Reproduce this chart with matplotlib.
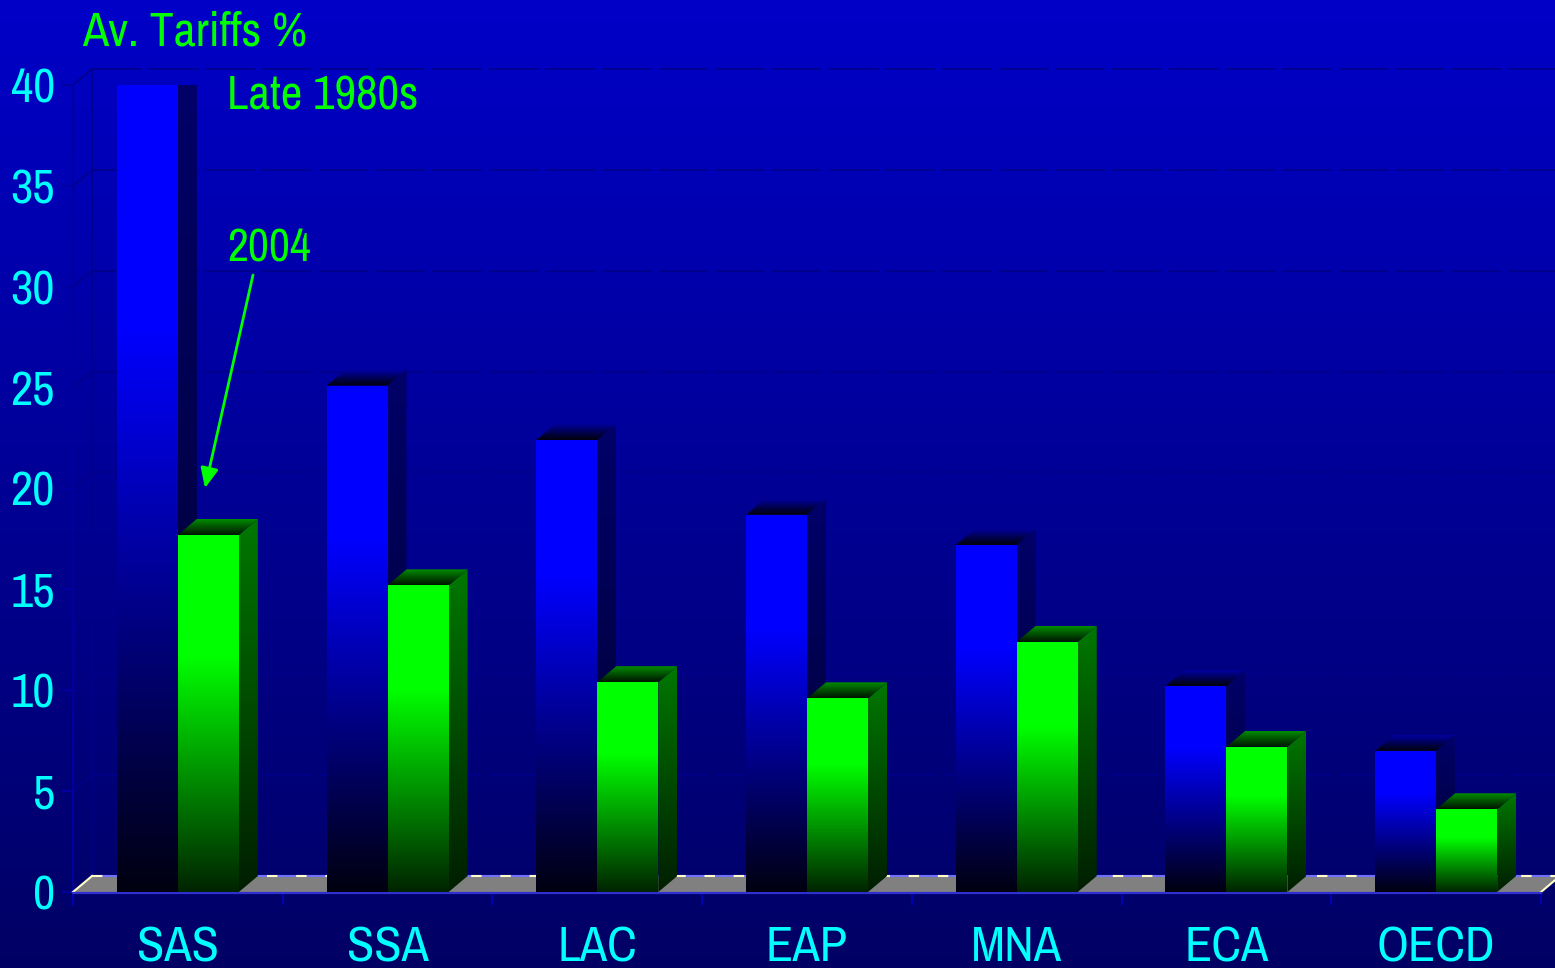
import numpy as np
import matplotlib
matplotlib.use("Agg")
import matplotlib.pyplot as plt
from matplotlib.patches import Polygon
from matplotlib import font_manager as fm

# ---------------- data ----------------
categories = ["SAS", "SSA", "LAC", "EAP", "MNA", "ECA", "OECD"]
late_1980s = [40.0, 25.1, 22.4, 18.7, 17.2, 10.2, 7.0]
y2004 = [17.7, 15.2, 10.4, 9.6, 12.4, 7.2, 4.1]
yticks = [0, 5, 10, 15, 20, 25, 30, 35, 40]

# ---------------- font choice ----------------
_names = {f.name for f in fm.fontManager.ttflist}
FONT_NAME = None
for nm in ["Liberation Sans Narrow", "Arial Narrow", "Nimbus Sans Narrow",
           "Archivo Narrow", "Roboto Condensed", "PT Sans Narrow"]:
    if nm in _names:
        FONT_NAME = nm
        break
if FONT_NAME is None:
    FONT = dict(family=["DejaVu Sans"], stretch="condensed")
else:
    FONT = dict(family=[FONT_NAME, "DejaVu Sans"])

W, H = 1555, 968
fig = plt.figure(figsize=(W / 100, H / 100), dpi=100)

# ---------- background gradient ----------
bg = fig.add_axes([0, 0, 1, 1], zorder=-5)
g = np.linspace(0, 1, 256)[:, None]
top = np.array([0, 0, 200]) / 255
bot = np.array([0, 0, 100]) / 255
img = (bot[None, None, :] * (1 - g[..., None]) + top[None, None, :] * g[..., None])
img = np.repeat(img, 2, axis=1)
bg.imshow(img, origin="lower", extent=[0, 1, 0, 1], aspect="auto", interpolation="bilinear")
bg.set_axis_off()

# ---------- main axes ----------
x_left, x_right = 73, 1541
y0_pix, y40_pix = 892, 85
ax = fig.add_axes([x_left / W, (H - y0_pix) / H, (x_right - x_left) / W, (y0_pix - y40_pix) / H])
ax.set_facecolor("none")
for s in ax.spines.values():
    s.set_visible(False)

n = len(categories)
xs = np.arange(n)
DX = 19 / ((x_right - x_left) / n)    # depth offset in x data units
DY = 16 / ((y0_pix - y40_pix) / 40)   # depth offset in y data units
BW = 0.291

ax.set_xlim(-0.5, n - 0.5)
ax.set_ylim(0, 40)

wall_col = "#00008a"
for t in yticks:
    if t > 0:
        ax.plot([-0.5 + DX, n + 1], [t + DY, t + DY], color=wall_col, lw=1.2,
                dashes=(30, 4), clip_on=False, zorder=1)
    ax.plot([-0.5, -0.5 + DX], [t, t + DY], color=wall_col, lw=1.2, clip_on=False, zorder=1)
ax.plot([-0.5 + DX, -0.5 + DX], [DY, 40 + DY], color=wall_col, lw=1.2, clip_on=False, zorder=1)
ax.plot([-0.5, -0.5], [-0.65, 40], color="#0000a0", lw=1.5, clip_on=False, zorder=1)

# floor
floor = Polygon([(-0.5, 0), (n - 0.5, 0), (n - 0.5 + DX, DY), (-0.5 + DX, DY)],
                closed=True, facecolor="#808080", edgecolor="none", clip_on=False, zorder=2)
ax.add_patch(floor)
ax.plot([-0.5 + DX, n + 1], [DY, DY], color="#7070ff", lw=1.5, clip_on=False, zorder=2.1)
ax.plot([-0.5 + DX, n + 1], [DY, DY], color="#ffffc8", lw=1.5, dashes=(5, 9),
        clip_on=False, zorder=2.2)
ax.plot([-0.5, -0.5 + DX], [0, DY], color="#ffffc8", lw=1.5, clip_on=False, zorder=2.2)
ax.plot([n - 0.5, n - 0.5 + DX], [0, DY], color="#ffffc8", lw=1.5, clip_on=False, zorder=2.2)
ax.plot([-0.5, n - 0.5], [-0.05, -0.05], color="#3030d0", lw=1.6, clip_on=False, zorder=2.3)


def grad_img(fn, npts=200):
    f = np.linspace(0, 1, npts)
    cols = np.array([fn(v) for v in f]) / 255.0
    return np.repeat(cols[:, None, :], 2, axis=1)


def blue_front(f):
    return (0, 0, 16 + 239 * min(f / 0.7, 1.0))


def green_front(f):
    return (0, 36 + 219 * min(f / 0.66, 1.0), 0)


def blue_side(f):
    return (0, 0, 45 + 60 * f)


def green_side(f):
    return (0, 30 + 90 * f, 0)


def blue_top(f):
    return (0, 0, 10 + 150 * f)


def green_top(f):
    return (0, 20 + 120 * f, 0)


imgs = {
    "bf": grad_img(blue_front), "gf": grad_img(green_front),
    "bs": grad_img(blue_side), "gs": grad_img(green_side),
    "bt": grad_img(blue_top), "gt": grad_img(green_top),
}


def face(image, verts, extent, z):
    poly = Polygon(verts, closed=True, transform=ax.transData)
    im = ax.imshow(image, origin="lower", extent=extent, aspect="auto",
                   interpolation="bilinear", zorder=z)
    im.set_clip_path(poly)
    im.set_clip_box(None)


def bar3d(x0, v, kind, z):
    x1 = x0 + BW
    face(imgs[kind + "f"], [(x0, 0), (x1, 0), (x1, v), (x0, v)], [x0, x1, 0, v], z)
    face(imgs[kind + "s"], [(x1, 0), (x1 + DX, DY), (x1 + DX, v + DY), (x1, v)],
         [x1, x1 + DX, 0, v + DY], z)
    face(imgs[kind + "t"], [(x0, v), (x1, v), (x1 + DX, v + DY), (x0 + DX, v + DY)],
         [x0, x1 + DX, v, v + DY], z)


for i in range(n):
    bar3d(xs[i] - BW, late_1980s[i], "b", 3 + i * 0.1)
    bar3d(xs[i], y2004[i], "g", 3.05 + i * 0.1)

ax.set_xlim(-0.5, n - 0.5)
ax.set_ylim(0, 40)

# ticks
ax.set_yticks(yticks)
ax.set_yticklabels([str(t) for t in yticks], color="#00ffff", fontsize=35, **FONT)
ax.tick_params(axis="y", length=8, width=1.5, color="#0000a0", pad=5)
ax.set_xticks(xs)
ax.set_xticklabels(categories, color="#00ffff", fontsize=36, **FONT)
ax.tick_params(axis="x", which="major", length=0, pad=24)
ax.set_xticks(np.arange(-0.5, n, 1.0), minor=True)
ax.tick_params(axis="x", which="minor", length=9, width=1.5, color="#0000b0", direction="out")

# texts
fig.text(82 / W, 1 - 45 / H, "Av. Tariffs %", color="#00ff00", fontsize=34.5,
         va="baseline", ha="left", **FONT)
fig.text(227 / W, 1 - 109 / H, "Late 1980s", color="#00ff00", fontsize=34,
         va="baseline", ha="left", **FONT)
fig.text(227 / W, 1 - 262 / H, "2004", color="#00ff00", fontsize=33,
         va="baseline", ha="left", **FONT)
ax.annotate("", xy=(205, H - 488), xycoords="figure pixels",
            xytext=(253, H - 275), textcoords="figure pixels",
            arrowprops=dict(arrowstyle="-|>,head_length=0.6,head_width=0.27",
                            color="#00ff00", lw=2, mutation_scale=20,
                            shrinkA=0, shrinkB=0))

fig.savefig("out.png", dpi=100)
